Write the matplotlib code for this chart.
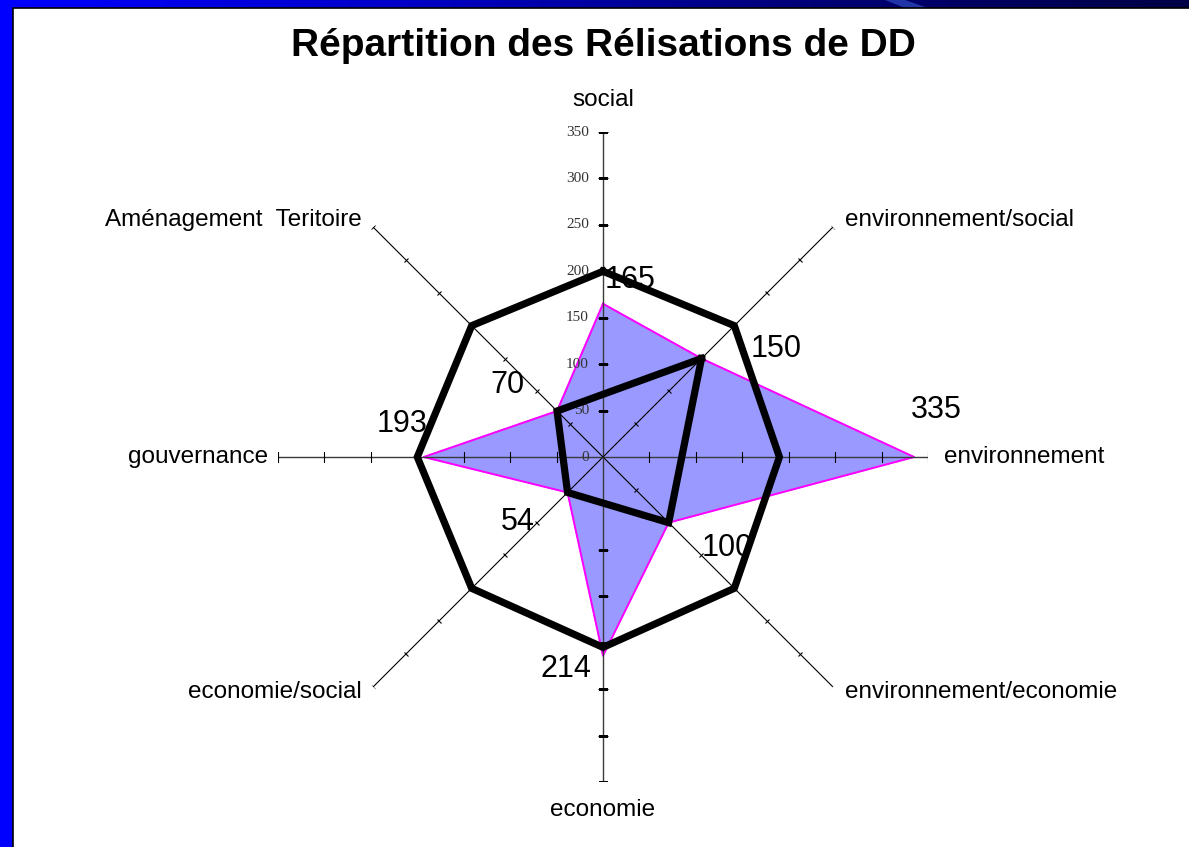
import numpy as np
import matplotlib
matplotlib.use("Agg")
import matplotlib.pyplot as plt
from matplotlib.markers import MarkerStyle
from matplotlib.transforms import Affine2D
from matplotlib.patches import Rectangle, Polygon
from matplotlib.colors import LinearSegmentedColormap

# ---- data -------------------------------------------------------------
categories = ["social", "environnement/social", "environnement",
              "environnement/economie", "economie", "economie/social",
              "gouvernance", "Aménagement  Teritoire"]
realisations = [165, 150, 335, 100, 214, 54, 193, 70]
objectif = [200, 200, 190, 200, 205, 200, 200, 200]
# mixed themes only (diagonal axes)
mixte_idx = [1, 3, 5, 7]
mixte_vals = [150, 100, 54, 70]
r_ticks = [0, 50, 100, 150, 200, 250, 300, 350]
r_max = 350
title = "Répartition des Rélisations de DD"

sans = ["Liberation Sans Narrow", "Liberation Sans", "DejaVu Sans"]
serif = ["Liberation Serif", "DejaVu Serif"]

W, H = 1189, 847
fig = plt.figure(figsize=(W / 100, H / 100), dpi=100)
fig.patch.set_facecolor("white")

# ---- slide frame: blue gradient top bar and blue left bar -------------
frame = fig.add_axes([0, 0, 1, 1], zorder=-5)
frame.set_xlim(0, W)
frame.set_ylim(H, 0)
frame.axis("off")
grad = np.linspace(0, 1, 256).reshape(1, -1)
cmap = LinearSegmentedColormap.from_list("bar", ["#0000ff", "#0000c8", "#00007a", "#000045"])
frame.imshow(grad, cmap=cmap, extent=(0, W, 8, 0), aspect="auto")
frame.add_patch(Polygon([[885, 0], [905, 0], [928, 8], [905, 8]], closed=True,
                        facecolor="#3a5ad0", edgecolor="none", alpha=0.6))
frame.add_patch(Rectangle((0, 0), 13, H, facecolor="#0000ff", edgecolor="none"))
frame.plot([13, 13, W], [H, 8, 8], color="black", lw=1.2)

# ---- radar -------------------------------------------------------------
cx, cy, rad = 603, 457, 325
ax = fig.add_axes([(cx - rad) / W, (H - cy - rad) / H, 2 * rad / W, 2 * rad / H],
                  projection="polar")
ax.set_theta_zero_location("N")
ax.set_theta_direction(-1)
ax.set_ylim(0, r_max)
ax.grid(False)
ax.spines["polar"].set_visible(False)
ax.set_xticks([])
ax.set_yticks([])
ax.patch.set_alpha(0)

n = len(categories)
angles = np.arange(n) * 2 * np.pi / n
closed = lambda a: np.concatenate([a, a[:1]])

# filled series
ax.fill(closed(angles), closed(np.array(realisations, float)), color="#9999ff", zorder=1)
ax.plot(closed(angles), closed(np.array(realisations, float)), color="#ff00ff", lw=1.4, zorder=2)

# axes with perpendicular tick marks
for i, th in enumerate(angles):
    deg = np.degrees(th)
    main = i % 2 == 0
    col = "#3a3a3a" if main else "black"
    ax.plot([th, th], [0, r_max], color=col, lw=1.0 if main else 0.8, zorder=3)
    mk = MarkerStyle("|", transform=Affine2D().rotate_deg(90 - deg))
    ticks, = ax.plot([th] * (len(r_ticks) - 1), r_ticks[1:], linestyle="none", marker=mk,
                     markersize=7.0 if main else 4.0, markeredgewidth=0.8,
                     color="black", zorder=3)
    ticks.set_snap(False)

# radial value labels on the "social" axis
for r in r_ticks:
    ax.annotate(str(r), xy=(0, r), xytext=(-14, 0), textcoords="offset pixels",
                ha="right", va="center", fontsize=11, family=serif,
                color="#333333", zorder=4)

# outline series
ax.plot(closed(angles), closed(np.array(objectif, float)), color="black", lw=5.2,
        solid_joinstyle="miter", zorder=5)
m_ang = angles[mixte_idx]
ax.plot(closed(m_ang), closed(np.array(mixte_vals, float)), color="black", lw=5.2,
        solid_joinstyle="miter", zorder=5)

# value labels
label_offsets = [(27, 24), (75, 10), (22, 47), (59, -25),
                 (-37, -13), (-50, -30), (-22, 33), (-50, 26)]
for th, v, (dx, dy) in zip(angles, realisations, label_offsets):
    ax.annotate(str(v), xy=(th, v), xytext=(dx, dy), textcoords="offset pixels",
                ha="center", va="center", fontsize=22, family=sans, zorder=6)

# category labels at the end of each axis
cat_pos = [((0, 32), "center", "center"),
           ((12, 7), "left", "center"),
           ((16, 0), "left", "center"),
           ((12, -5), "left", "center"),
           ((0, -28), "center", "center"),
           ((-11, -5), "right", "center"),
           ((-10, 0), "right", "center"),
           ((-11, 7), "right", "center")]
for th, name, (off, ha, va) in zip(angles, categories, cat_pos):
    ax.annotate(name, xy=(th, r_max), xytext=off, textcoords="offset pixels",
                ha=ha, va=va, fontsize=17.5, family=sans, zorder=6)

fig.text(603 / W, 1 - 46 / H, title, ha="center", va="center",
         fontsize=28, fontweight="bold", family=sans)

fig.savefig("out.png", dpi=100)
